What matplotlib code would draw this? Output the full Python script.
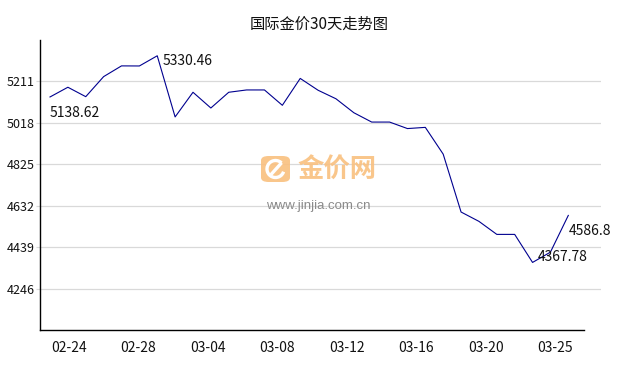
"""
International gold price, 30-day trend (国际金价30天走势图).
"""

import matplotlib
matplotlib.use("Agg")
import matplotlib.pyplot as plt
from matplotlib.patches import FancyBboxPatch, Arc
from matplotlib.lines import Line2D
import numpy as np

plt.rcParams["font.family"] = ["Noto Sans CJK SC", "DejaVu Sans"]

TITLE = "国际金价30天走势图"

# one value per calendar day, 02-24 .. 03-25
PRICES = [
    5138.62, 5183.9, 5140.0, 5233.4, 5283.4, 5283.0, 5330.46, 5045.6,
    5160.5, 5087.2, 5160.5, 5171.3, 5171.3, 5099.8, 5225.0, 5169.9,
    5130.2, 5065.2, 5021.7, 5021.7, 4991.4, 4997.0, 4872.2, 4602.6,
    4559.1, 4498.4, 4498.4, 4367.78, 4415.7, 4586.8,
]
X_LABELS = ["02-24", "02-28", "03-04", "03-08", "03-12", "03-16", "03-20", "03-25"]
Y_TICKS = [4246, 4439, 4632, 4825, 5018, 5211]
Y_MIN, Y_MAX = 4053, 5404

LINE_COLOR = "#00008f"
GRID_COLOR = "#d9d9d9"

fig = plt.figure(figsize=(6.38, 3.70), dpi=100)
ax = fig.add_axes([40 / 638, 1 - 330 / 370, 561 / 638, 290 / 370])

x = np.arange(len(PRICES))
ax.plot(x, PRICES, color=LINE_COLOR, lw=0.8, zorder=3)

ax.set_xlim(-0.56, 30.83)
ax.set_ylim(Y_MIN, Y_MAX)

# x labels sit on their own even spacing, not on the data points
ax.set_xticks(np.linspace(1.05, 28.28, len(X_LABELS)))
ax.set_xticklabels(X_LABELS, fontsize=10, color="#111111")
ax.set_yticks(Y_TICKS)
ax.set_yticklabels([str(v) for v in Y_TICKS], fontsize=9, color="#111111")
ax.tick_params(axis="x", length=0, pad=8)
ax.tick_params(axis="y", length=3, width=0.8, color=GRID_COLOR, pad=1)

ax.grid(axis="y", color=GRID_COLOR, lw=0.9, zorder=0)
ax.set_axisbelow(True)
for side in ("top", "right"):
    ax.spines[side].set_visible(False)
ax.spines["left"].set_linewidth(1.0)
ax.spines["bottom"].set_linewidth(1.0)
ax.spines["bottom"].set_bounds(-0.56, 29.9)

fig.text(0.5, 1 - 24 / 370, TITLE, ha="center", va="center", fontsize=11, color="#111111")

# value labels: first, max, min, last
first_i, last_i = 0, len(PRICES) - 1
max_i, min_i = int(np.argmax(PRICES)), int(np.argmin(PRICES))
labels = [
    (first_i, (0, -11.5)),
    (max_i, (3.6, -3.8)),
    (min_i, (3.6, 4.0)),
    (last_i, (0, -11.5)),
]
for i, off in labels:
    ax.annotate(f"{PRICES[i]:g}", (x[i], PRICES[i]), xytext=off,
                textcoords="offset points", ha="left", va="center",
                fontsize=10, color="#111111", zorder=4)

# watermark
orange = "#f9c07f"
logo = FancyBboxPatch((261 / 638, 1 - 182 / 370), 29 / 638, 26 / 370,
                      boxstyle="round,pad=0,rounding_size=0.012",
                      transform=fig.transFigure, fc=orange, ec="none",
                      alpha=0.9, zorder=2)
fig.add_artist(logo)
cx, cy = 275.5 / 638, 1 - 169 / 370
fig.add_artist(Arc((cx, cy), 17 / 638, 17 / 370, theta1=60, theta2=330,
                   transform=fig.transFigure, color="white", lw=2.4, zorder=2))
fig.add_artist(Line2D([cx - 4 / 638, cx + 5 / 638], [cy - 5 / 370, cy + 5 / 370],
                      transform=fig.transFigure, color="white", lw=2.4, zorder=2))
fig.text(337 / 638, 1 - 170 / 370, "金价网", ha="center", va="center",
         fontsize=19, weight="bold", color=orange, alpha=0.9, zorder=2)
fig.text(318 / 638, 1 - 206 / 370, "www.jinjia.com.cn", ha="center", va="center",
         fontsize=9.5, color="#8a8a8a", family=["Liberation Sans", "DejaVu Sans"], zorder=2)

fig.savefig("out.png", dpi=100, facecolor="white")
